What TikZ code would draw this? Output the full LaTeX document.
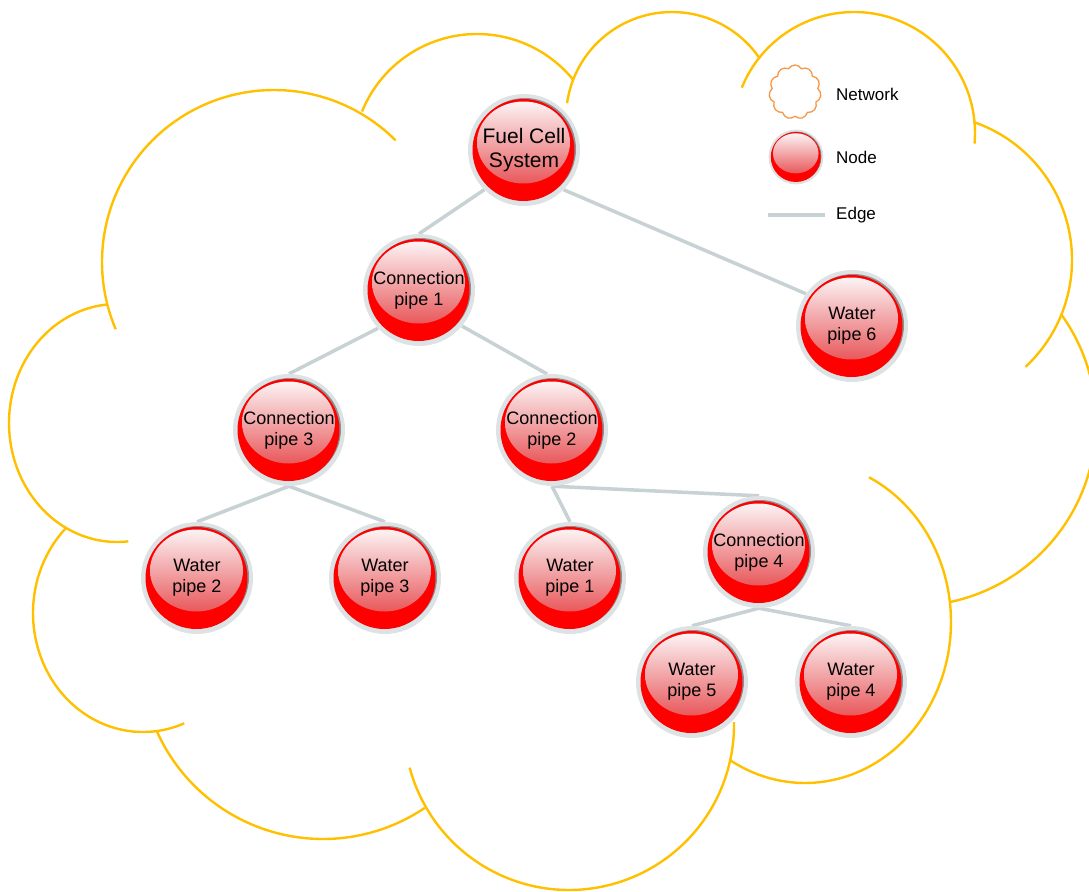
\documentclass[tikz,border=0pt]{standalone}
\usepackage{fontspec}
\setmainfont{Liberation Sans}
\usetikzlibrary{positioning,shapes.symbols,backgrounds}
\definecolor{cloudgold}{HTML}{FFC000}
\definecolor{legorange}{HTML}{F79646}
\definecolor{edgegrey}{HTML}{C8D1D4}
\definecolor{rimgrey}{HTML}{DDE3E4}
\definecolor{rimdark}{HTML}{8E9090}
\definecolor{ballred}{HTML}{FF0000}
\definecolor{hltop}{HTML}{FCF3F4}
\definecolor{hlbot}{HTML}{E8585B}
\newcommand\ballface[1]{%
  \fill[rimdark] ([shift={({#1*1pt},{#1*1pt})}]path picture bounding box.center)
    circle[radius=#1*51pt];
  \fill[ballred] ([shift={({#1*-0.5pt},0pt)}]path picture bounding box.center)
    circle[radius=#1*51pt];
  \shade[top color=hltop, bottom color=hlbot]
    ([shift={({#1*-0.5pt},{#1*7.5pt})}]path picture bounding box.center)
    ellipse[x radius=#1*46.5pt, y radius=#1*41pt];}
\tikzset{
  ball/.style     = {circle, inner sep=0pt, minimum size=#1*112pt, fill=rimgrey,
                     align=center, path picture={\ballface{#1}}},
  ball/.default   = 1,
  pipe/.style     = {ball, font=\fontsize{18}{21}\selectfont},
  edge/.style     = {draw=edgegrey, line width=3.5pt},
  cloudline/.style= {draw=cloudgold, line width=2.4pt},
  legcloud/.style = {cloud, cloud puffs=11, cloud puff arc=120, aspect=1,
                     minimum width=52pt, minimum height=54pt, inner sep=0pt,
                     draw=legorange, line width=1.3pt},
  leglab/.style   = {anchor=base west, inner sep=0pt, font=\fontsize{17}{20}\selectfont},
}
\begin{document}
\begin{tikzpicture}[x=1pt, y=-1pt, on grid]
  \useasboundingbox (0,0) rectangle (1089,891);

  \node[pipe, font=\fontsize{21}{24}\selectfont] (fcs) at (524,150) {Fuel Cell\\System};
  \node[pipe, below left=140pt and 105pt of fcs]  (cp1) {Connection\\pipe 1};
  \node[pipe, below right=176pt and 328pt of fcs] (wp6) {Water\\pipe 6};
  \node[pipe, below left=140pt and 130pt of cp1]  (cp3) {Connection\\pipe 3};
  \node[pipe, below right=140pt and 133pt of cp1] (cp2) {Connection\\pipe 2};
  \node[pipe, below left=148pt and 92pt of cp3]   (wp2) {Water\\pipe 2};
  \node[pipe, below right=148pt and 96pt of cp3]  (wp3) {Water\\pipe 3};
  \node[pipe, below right=148pt and 18pt of cp2]  (wp1) {Water\\pipe 1};
  \node[pipe, below right=122pt and 207pt of cp2] (cp4) {Connection\\pipe 4};
  \node[pipe, below left=130pt and 67pt of cp4]   (wp5) {Water\\pipe 5};
  \node[pipe, below right=130pt and 92pt of cp4]  (wp4) {Water\\pipe 4};

  % legend
  \node[legcloud] (legnet)  at (795,92) {};
  \node[ball=0.49] (legnode) at (796,157) {};
  \coordinate (legedgea) at (768,215);
  \coordinate (legedgeb) at (825,215);
  \draw[edge] (legedgea) -- (legedgeb);
  \node[leglab] (labnet)  at (836,100) {Network};
  \node[leglab] (labnode) at (836,163) {Node};
  \node[leglab] (labedge) at (836,219) {Edge};

  \begin{scope}[on background layer]
    % network outline
    \foreach \cx/\cy/\rx/\ry/\a/\b in {
        274/262/172/172/157/315, 477/158/124/124/202/321,
        672/118/106/106/188/326, 854/133/121/121/202/365,
        926/260/146/146/289/407, 912/422/184/184/-36/78,
        805/622/146/161/-64/121, 569/725/165/165/-1/165,
        323/657/182/182/56/156,  143/613/110/119/68/226,
        117/423/108/119/84/265}
      \draw[cloudline] plot[domain=\a:\b, samples=60, smooth]
        ({\cx+\rx*cos(\x)}, {\cy+\ry*sin(\x)});

    \draw[edge] (fcs.225) -- (cp1.north);
    \draw[edge] (fcs.-45) -- (wp6.145);
    \draw[edge] (cp1.223) -- (cp3.north);
    \draw[edge] (cp1.-40) -- (cp2.95);
    \draw[edge] (cp3.south) -- (wp2.north);
    \draw[edge] (cp3.south) -- (wp3.north);
    \draw[edge] (cp2.south) -- (wp1.north);
    \draw[edge] (cp2.south) -- (cp4.north);
    \draw[edge] (cp4.south) -- (wp5.north);
    \draw[edge] (cp4.south) -- (wp4.north);
  \end{scope}
\end{tikzpicture}
\end{document}
